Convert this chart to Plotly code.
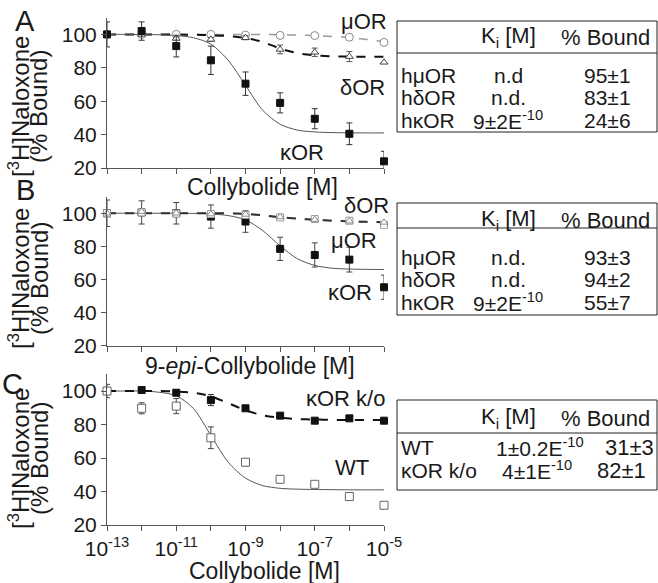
import plotly.graph_objects as go

# ---------------- data ----------------
conc = [1e-13, 1e-12, 1e-11, 1e-10, 1e-9, 1e-8, 1e-7, 1e-6, 1e-5]
fit_conc = [1e-13, 10**-12.5, 1e-12, 10**-11.5, 1e-11, 10**-10.5, 1e-10, 10**-9.5, 1e-9,
            10**-8.5, 1e-8, 10**-7.5, 1e-7, 10**-6.5, 1e-6, 10**-5.5, 1e-5]

# Panel A (Collybolide)
A_kOR = [100, 102, 93, 84.5, 70.5, 59, 49.5, 40.5, 24]
A_kOR_err = [7.5, 5.5, 6.5, 8.5, 7, 6, 6, 6.5, 6]
A_dOR = [100, 100, 97.6, 97, 98, 91, 89.3, 86.7, 83.3]
A_dOR_err = [0, 0, 1, 1.2, 1.2, 2.6, 2.5, 3, 0]
A_mOR = [100, 100, 100, 100, 99.6, 99.4, 99.3, 98.3, 95.2]
A_kOR_fit = [100, 100, 99.9, 99.8, 99.3, 98.0, 94.2, 84.5, 69.5, 54.5, 46.2, 42.7, 41.6, 41.2, 41.05, 41, 41]
A_dOR_fit = [100, 100, 100, 100, 99.9, 99.8, 99.5, 99.0, 97.8, 95.5, 91.5, 88.8, 87.5, 86.9, 86.7, 86.6, 86.6]
A_mOR_fit = [100, 100, 100, 100, 100, 100, 100, 100, 100, 100, 99.8, 99.6, 99.3, 98.8, 98.1, 97.0, 95.7]

# Panel B (9-epi-Collybolide)
B_kOR = [100, 100.5, 100, 98, 95, 78.5, 74.8, 72, 55.3]
B_kOR_err = [8, 7, 6.5, 7, 6.5, 7, 7.3, 7.5, 7.3]
B_dOR = [100, 101, 100, 99.5, 99.3, 97.8, 96.2, 95.2, 94.5]
B_mOR = [100, 100.5, 99.8, 99.5, 99, 97.5, 96.5, 95.5, 93]
B_kOR_fit = [100, 100, 100, 100, 100, 99.9, 99.6, 98.6, 96.0, 89.5, 80.3, 72.5, 68.5, 66.8, 66.3, 66.1, 66]
B_dOR_fit = [100, 100, 100, 100, 100, 100, 100, 100, 99.6, 98.8, 97.6, 96.7, 96.0, 95.5, 95.1, 94.8, 94.6]
B_mOR_fit = [100, 100, 100, 100, 100, 100, 100, 100, 99.5, 98.6, 97.6, 96.8, 96.2, 95.6, 95.2, 94.8, 94.5]

# Panel C (Collybolide, WT vs kOR k/o)
C_WT = [100, 89.7, 91, 72.1, 57.5, 47.3, 44.3, 37, 31.8]
C_WT_err = [4, 3.3, 4.5, 6.5, 2.2, 2, 1.5, 1.5, 2.2]
C_KO = [100, 100.6, 99, 94.6, 89.7, 85.3, 82.3, 83.7, 82.3]
C_KO_err = [0, 0.8, 1.5, 3.3, 1, 1, 0.6, 1.2, 0.6]
C_WT_fit = [100, 100, 100, 99.3, 97.2, 89.5, 73.5, 57.5, 48, 43.5, 41.9, 41.4, 41.2, 41.1, 41, 41, 41]
C_KO_fit = [100, 100, 100, 100, 99.7, 99.0, 96.8, 92.8, 88.5, 85.5, 84.0, 83.3, 83.0, 82.8, 82.7, 82.7, 82.7]

y_ticks = [20, 40, 60, 80, 100]
x_tick_text_C = ["10<sup>-13</sup>", " ", "10<sup>-11</sup>", " ", "10<sup>-9</sup>", " ",
                 "10<sup>-7</sup>", " ", "10<sup>-5</sup>"]

# tables
tabA = [["hμOR", "n.d", "95±1"], ["hδOR", "n.d.", "83±1"], ["hκOR", "9±2E<sup>-10</sup>", "24±6"]]
tabB = [["hμOR", "n.d.", "93±3"], ["hδOR", "n.d.", "94±2"], ["hκOR", "9±2E<sup>-10</sup>", "55±7"]]
tabC = [["WT", "1±0.2E<sup>-10</sup>", "31±3"], ["κOR k/o", "4±1E<sup>-10</sup>", "82±1"]]

# ---------------- figure ----------------
W, H = 658, 583
FONT = "Liberation Sans, Arial, sans-serif"
INK = "#1a1a1a"


def P(x, y):
    return x / W, 1 - y / H


fig = go.Figure()


def add_line(vals, ax, color, width, dash):
    fig.add_trace(go.Scatter(x=fit_conc, y=vals, mode="lines", xaxis="x" + ax, yaxis="y" + ax,
                             line=dict(color=color, width=width, dash=dash, shape="spline", smoothing=0.8),
                             hoverinfo="skip", showlegend=False))


def add_pts(vals, errs, ax, symbol, fill, edge, size, ecolor="#333"):
    fig.add_trace(go.Scatter(x=conc, y=vals, mode="markers", xaxis="x" + ax, yaxis="y" + ax,
                             marker=dict(symbol=symbol, color=fill, size=size, line=dict(color=edge, width=1)),
                             error_y=dict(type="data", array=errs, visible=errs is not None,
                                          color=ecolor, thickness=1, width=3),
                             cliponaxis=False, showlegend=False))


# Panel A
add_line(A_mOR_fit, "", "#9a9a9a", 1.5, "dash")
add_line(A_dOR_fit, "", "#111", 2, "dash")
add_line(A_kOR_fit, "", "#555", 1, "solid")
add_pts(A_mOR, None, "", "circle", "white", "#888", 8)
add_pts(A_dOR, A_dOR_err, "", "triangle-up", "white", "#444", 7, "#555")
add_pts(A_kOR, A_kOR_err, "", "square", "#111", "#111", 7)

# Panel B
add_line(B_kOR_fit, "2", "#555", 1, "solid")
add_line(B_mOR_fit, "2", "#9a9a9a", 1.5, "dash")
add_line(B_dOR_fit, "2", "#333", 2, "dash")
add_pts(B_kOR, B_kOR_err, "2", "square", "#111", "#111", 7, "#444")
add_pts(B_mOR, None, "2", "square", "white", "#999", 7)
add_pts(B_dOR, None, "2", "triangle-up", "white", "#888", 7)

# Panel C
add_line(C_WT_fit, "3", "#555", 1, "solid")
add_line(C_KO_fit, "3", "#111", 2, "dash")
add_pts(C_KO, C_KO_err, "3", "square", "#111", "#111", 7, "#333")
add_pts(C_WT, C_WT_err, "3", "square", "white", "#666", 8, "#444")

xdom = [107 / W, 384 / W]
ydoms = {"": [1 - 168 / H, 1 - 17.7 / H], "2": [1 - 345.7 / H, 1 - 196.7 / H], "3": [1 - 525 / H, 1 - 374.3 / H]}

base_x = dict(type="log", range=[-13, -5], tickvals=conc, ticks="outside", ticklen=5, tickwidth=1,
              tickcolor="#555", showline=True, linecolor="#555", linewidth=1, showgrid=False,
              zeroline=False, domain=xdom, automargin=False,
              tickfont=dict(family=FONT, size=21, color=INK))
base_y = dict(range=[20, 110], tickvals=y_ticks, ticks="outside", ticklen=5, tickwidth=1,
              tickcolor="#555", showline=True, linecolor="#555", linewidth=1, showgrid=False,
              zeroline=False, automargin=False, tickfont=dict(family=FONT, size=21, color=INK))

layout = dict(width=W, height=H, margin=dict(l=0, r=0, t=0, b=0, pad=0, autoexpand=False),
              plot_bgcolor="white", paper_bgcolor="white", showlegend=False)
for ax in ["", "2", "3"]:
    xa = dict(base_x, anchor="y" + ax)
    if ax == "3":
        xa.update(ticktext=x_tick_text_C, showticklabels=True)
    else:
        xa.update(showticklabels=False)
    ya = dict(base_y, anchor="x" + ax, domain=ydoms[ax])
    layout["xaxis" + ax] = xa
    layout["yaxis" + ax] = ya
fig.update_layout(**layout)

ann = []


def txt(x, y, s, size=22, anchor="center", angle=0):
    xx, yy = P(x, y)
    ann.append(dict(x=xx, y=yy, xref="paper", yref="paper", text=s, showarrow=False,
                    xanchor=anchor, yanchor="middle", textangle=angle,
                    font=dict(family=FONT, size=size, color=INK)))


# panel letters
txt(25, 21, "A", 29)
txt(25, 190, "B", 29)
txt(12, 384, "C", 29)

# y titles
for yc in [107, 279, 459]:
    txt(19, yc, "[<sup>3</sup>H]Naloxone", 24, angle=-90)
    txt(39, yc, "(% Bound)", 24, angle=-90)

# x titles
txt(262, 187, "Collybolide [M]", 23)
txt(250, 366, "9-<i>epi</i>-Collybolide [M]", 23)
txt(264, 571, "Collybolide [M]", 23)

# curve labels
txt(364, 22, "μOR", 22)
txt(362, 87, "δOR", 22)
txt(302, 152, "κOR", 22)
txt(366, 205, "δOR", 22)
txt(354, 240, "μOR", 22)
txt(350, 292, "κOR", 22)
txt(345, 398, "κOR k/o", 22)
txt(352, 467, "WT", 22)

shapes = []


def box(y0, ysep, y1):
    x0, yy0 = P(397, y0)
    x1, yy1 = P(657, y1)
    shapes.append(dict(type="rect", xref="paper", yref="paper", x0=x0, x1=x1, y0=yy1, y1=yy0,
                       line=dict(color="#222", width=1)))
    _, ys = P(0, ysep)
    shapes.append(dict(type="line", xref="paper", yref="paper", x0=x0, x1=x1, y0=ys, y1=ys,
                       line=dict(color="#222", width=1)))


box(21, 53, 132)
box(203, 228, 315)
box(400, 433, 490)

RF = 21  # table row font size

# table texts A & B
for tab, yh, rows in [(tabA, 37, [75, 97, 120]), (tabB, 220, [257, 280, 302])]:
    txt(508, yh, "K<sub>i</sub> [M]", 22)
    txt(605, yh, "% Bound", 22)
    for (name, ki, pb), yr in zip(tab, rows):
        txt(399, yr, name, RF, anchor="left")
        txt(508, yr, ki, RF)
        txt(607, yr, pb, RF)

# table C
txt(508, 418, "K<sub>i</sub> [M]", 22)
txt(605, 418, "% Bound", 22)
txt(399, 447, tabC[0][0], RF, anchor="left")
txt(494, 447, tabC[0][1], RF, anchor="left")
txt(656, 447, tabC[0][2], 22, anchor="right")
txt(399, 470, tabC[1][0], RF, anchor="left")
txt(500, 470, tabC[1][1], RF, anchor="left")
txt(621, 470, tabC[1][2], 22)

fig.update_layout(annotations=ann, shapes=shapes)
fig.write_html("out.html", config={"displayModeBar": False},
               post_script="document.body.style.margin='0';document.body.style.overflow='hidden';")
